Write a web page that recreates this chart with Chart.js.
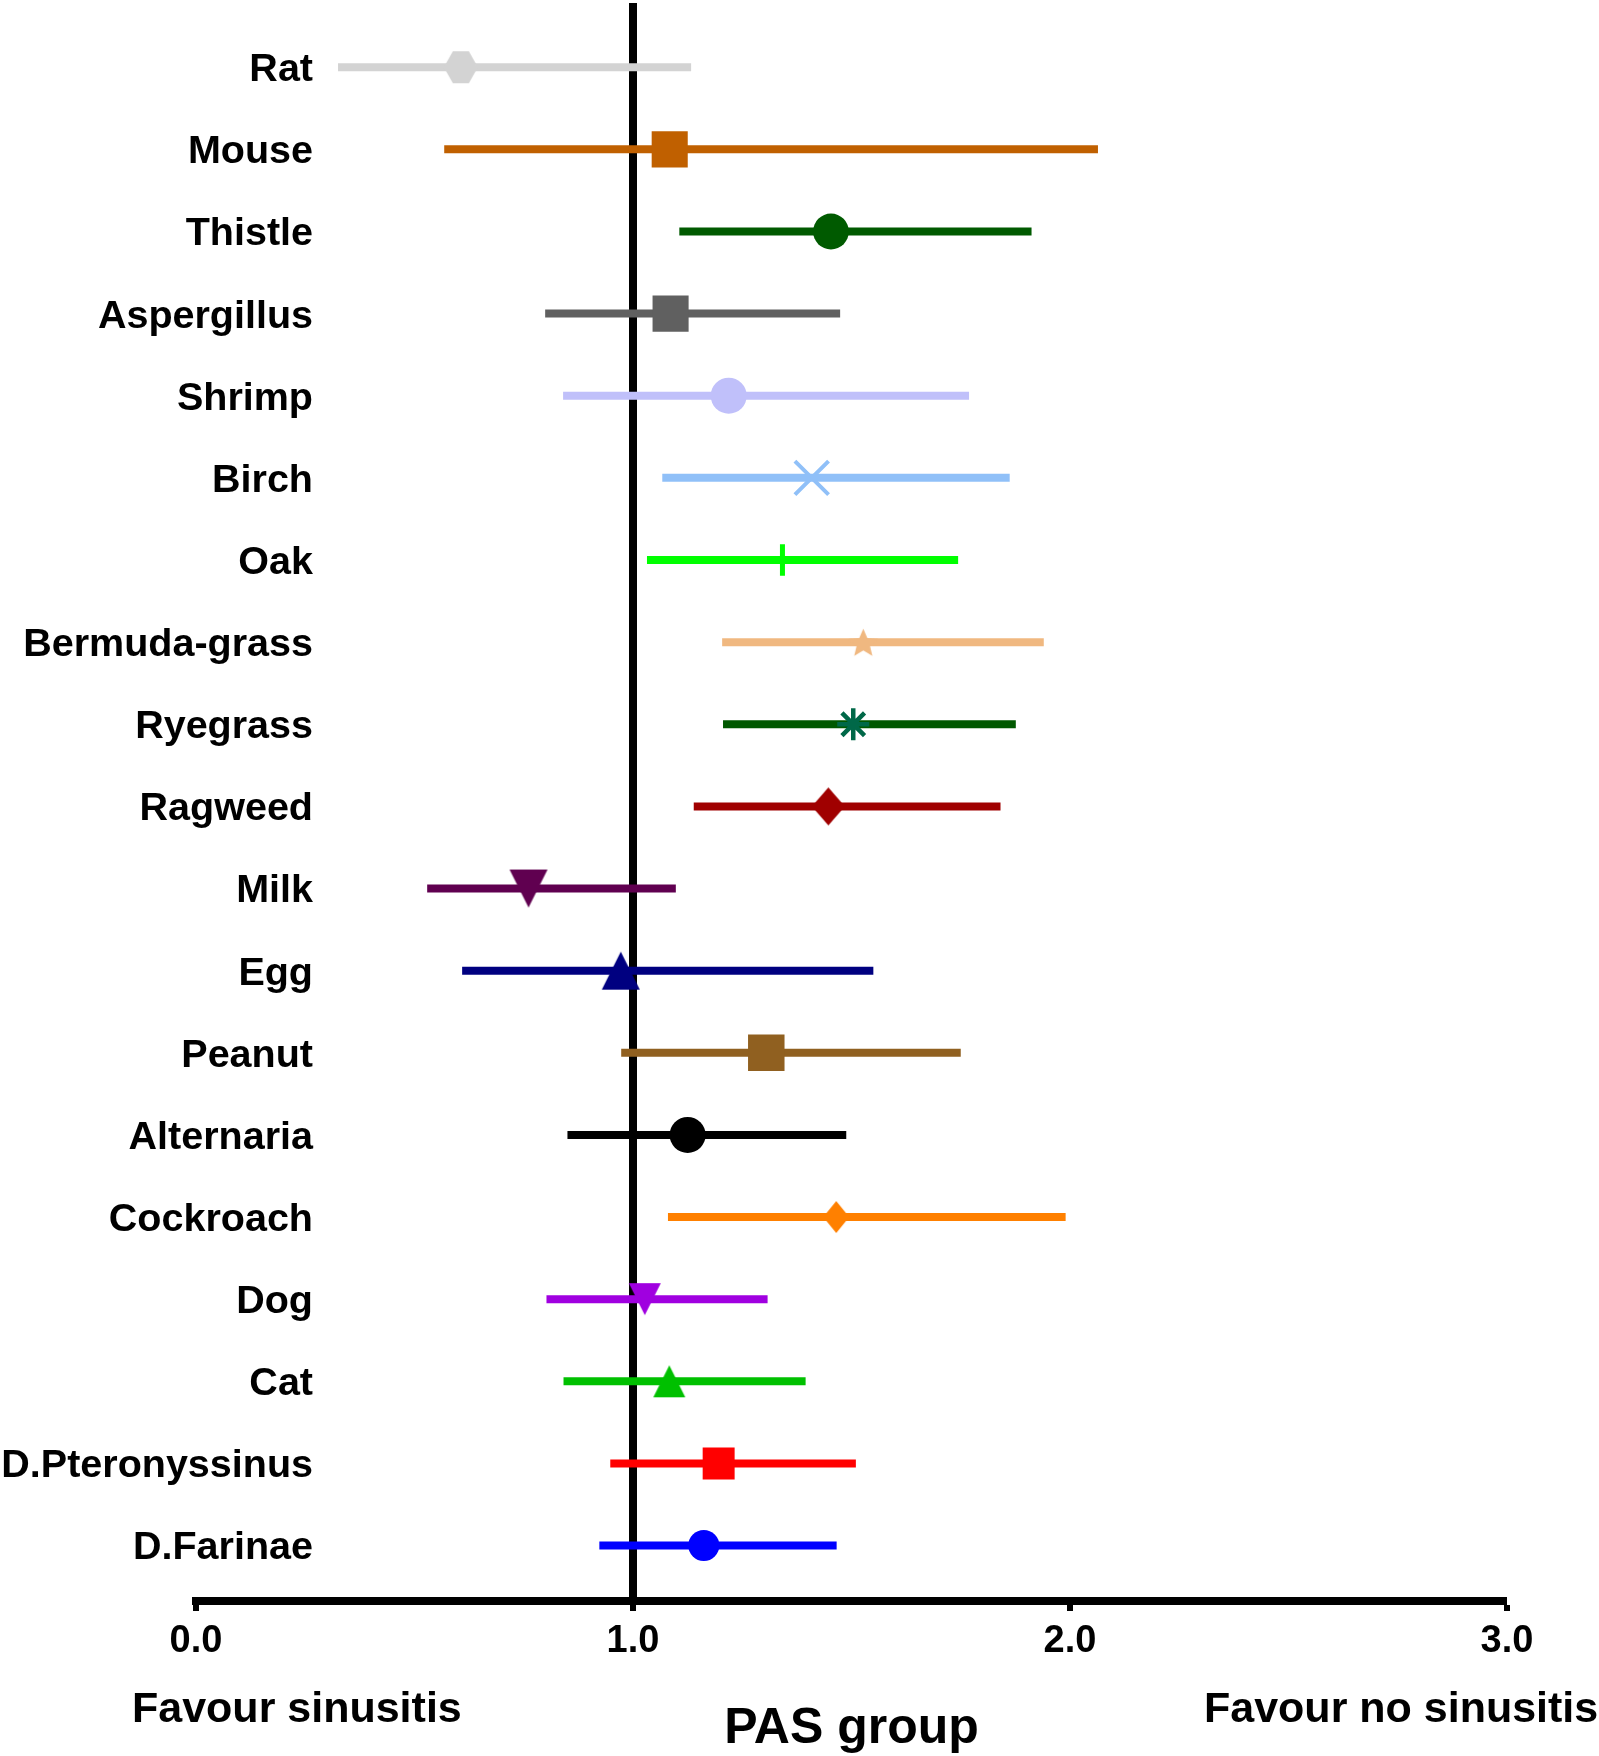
<!DOCTYPE html>
<html>
<head>
<meta charset="utf-8">
<script src="https://cdn.jsdelivr.net/npm/chart.js@4.4.1/dist/chart.umd.min.js"></script>
<style>
  html, body { margin: 0; padding: 0; background: #fff; }
  #wrap { width: 1599px; height: 1756px; }
</style>
</head>
<body>
<div id="wrap"><canvas id="forest" width="1599" height="1756"></canvas></div>
<script>
// allergens, top to bottom
const categories = ['Rat', 'Mouse', 'Thistle', 'Aspergillus', 'Shrimp', 'Birch', 'Oak', 'Bermuda-grass', 'Ryegrass',
  'Ragweed', 'Milk', 'Egg', 'Peanut', 'Alternaria', 'Cockroach', 'Dog', 'Cat', 'D.Pteronyssinus', 'D.Farinae'];
const estimates = [0.606, 1.084, 1.453, 1.086, 1.219, 1.409, 1.342, 1.527, 1.504, 1.447,
  0.761, 0.972, 1.305, 1.125, 1.465, 1.027, 1.083, 1.196, 1.162];
const lower = [0.325, 0.568, 1.106, 0.799, 0.840, 1.067, 1.032, 1.204, 1.206, 1.139,
  0.529, 0.609, 0.973, 0.850, 1.080, 0.802, 0.841, 0.948, 0.923];
const upper = [1.133, 2.064, 1.912, 1.474, 1.769, 1.862, 1.744, 1.940, 1.876, 1.841,
  1.098, 1.550, 1.750, 1.488, 1.990, 1.308, 1.395, 1.510, 1.466];
const xTicks = [0, 1, 2, 3];

const barColors = ['#d3d3d3', '#c06000', '#005a00', '#606060', '#c0c0fa', '#90c0f8', '#00ff00', '#f0b880', '#005800',
  '#a00000', '#600050', '#000080', '#906020', '#000000', '#ff8000', '#a000e0', '#00c000', '#ff0000', '#0000ff'];
const markerColors = barColors.slice();
markerColors[8] = '#006848';

const FONT = "'Liberation Sans', Arial, Helvetica, sans-serif";
Chart.defaults.font.family = FONT;
Chart.defaults.color = '#000';

const LABEL_SIZE = 39.5;
// widest category label, so the mirrored labels can be right-aligned
const meas = document.createElement('canvas').getContext('2d');
meas.font = 'bold ' + LABEL_SIZE + 'px ' + FONT;
const widest = Math.max(...categories.map(t => meas.measureText(t).width));

// little canvas markers for shapes chart.js has no style for
function marker(shape, w, h, color) {
  const c = document.createElement('canvas');
  c.width = Math.round(w) + 2;
  c.height = Math.round(h) + 2;
  const g = c.getContext('2d');
  const a = w / 2, b = h / 2;
  g.translate(c.width / 2, c.height / 2);
  g.fillStyle = color;
  g.beginPath();
  if (shape === 'hex') {
    const k = a * 0.47;
    g.moveTo(-a, 0); g.lineTo(-k, -b); g.lineTo(k, -b); g.lineTo(a, 0); g.lineTo(k, b); g.lineTo(-k, b);
  } else if (shape === 'star') {
    for (let i = 0; i < 10; i++) {
      const r = i % 2 ? a * 0.45 : a;
      const t = -Math.PI / 2 + i * Math.PI / 5;
      const px = Math.cos(t) * r, py = Math.sin(t) * r * (b / a) + b * 0.1;
      if (i === 0) g.moveTo(px, py); else g.lineTo(px, py);
    }
  } else if (shape === 'diamond') {
    g.moveTo(0, -b); g.lineTo(a, 0); g.lineTo(0, b); g.lineTo(-a, 0);
  } else if (shape === 'up') {
    g.moveTo(0, -b); g.lineTo(a, b); g.lineTo(-a, b);
  } else if (shape === 'down') {
    g.moveTo(-a, -b); g.lineTo(a, -b); g.lineTo(0, b);
  }
  g.closePath();
  g.fill();
  return c;
}

const pointStyles = [
  marker('hex', 34, 32, markerColors[0]),
  'rect', 'circle', 'rect', 'circle', 'crossRot', 'cross',
  marker('star', 31, 30, markerColors[7]),
  'star',
  marker('diamond', 33, 38, markerColors[9]),
  marker('down', 38, 38, markerColors[10]),
  marker('up', 38, 38, markerColors[11]),
  'rect', 'circle',
  marker('diamond', 26, 32, markerColors[14]),
  marker('down', 32, 32, markerColors[15]),
  marker('up', 32, 32, markerColors[16]),
  'rect', 'circle'
];
const pointSizes = [17, 25.5, 17.9, 25.5, 18, 23.8, 15.7, 15, 16, 18, 19, 19, 25.8, 18, 15, 16, 16, 22.6, 15.5];
const pointLines = [0, 0, 0, 0, 0, 4, 5, 0, 4.5, 0, 0, 0, 0, 0, 0, 0, 0, 0, 0];

const datasets = [{
  label: 'estimate',
  data: estimates.map((v, i) => ({ x: v, y: i })),
  pointStyle: pointStyles,
  pointRadius: pointSizes,
  pointBackgroundColor: markerColors,
  pointBorderColor: markerColors,
  pointBorderWidth: pointLines,
  showLine: false
}];
categories.forEach((name, i) => {
  datasets.push({
    label: name,
    data: [{ x: lower[i], y: i }, { x: upper[i], y: i }],
    showLine: true,
    borderColor: barColors[i],
    borderWidth: 8,
    borderCapStyle: 'butt',
    pointRadius: 0
  });
});

// the two side captions under the axis
const captions = {
  id: 'captions',
  afterDraw(chart) {
    const ctx = chart.ctx;
    ctx.save();
    ctx.font = 'bold 43px ' + FONT;
    ctx.fillStyle = '#000';
    ctx.textBaseline = 'middle';
    ctx.textAlign = 'left';
    ctx.fillText('Favour sinusitis', 132, 1710);
    ctx.fillText('Favour no sinusitis', 1204, 1710);
    ctx.restore();
  }
};

new Chart(document.getElementById('forest'), {
  type: 'scatter',
  data: { datasets },
  options: {
    responsive: false,
    animation: false,
    layout: { autoPadding: false, padding: { left: 0, right: 92, top: 3, bottom: 0 } },
    plugins: {
      legend: { display: false },
      tooltip: { enabled: false }
    },
    scales: {
      x: {
        type: 'linear',
        position: 'bottom',
        min: 0,
        max: 3,
        z: 1,
        afterBuildTicks: s => { s.ticks = xTicks.map(v => ({ value: v })); },
        afterFit: s => { s.height = 155; s.paddingLeft = 0; s.paddingRight = 0; },
        ticks: {
          callback: v => Number(v).toFixed(1),
          font: { size: 38, weight: 'bold' },
          color: '#000',
          padding: 8
        },
        grid: {
          drawOnChartArea: true,
          color: c => (c.tick && c.tick.value === 1 ? '#000' : 'rgba(0,0,0,0)'),
          lineWidth: c => (c.tick && c.tick.value === 1 ? 8 : 0),
          tickColor: '#000',
          tickWidth: 6,
          tickLength: 10
        },
        border: { display: true, color: '#000', width: 8 },
        title: {
          display: true,
          text: 'PAS group',
          font: { size: 50, weight: 'bold' },
          color: '#000',
          padding: { top: 0, bottom: -3 }
        }
      },
      y: {
        type: 'linear',
        position: 'left',
        reverse: true,
        min: -0.782,
        max: 18.675,
        afterBuildTicks: s => { s.ticks = categories.map((_, i) => ({ value: i })); },
        afterFit: s => { s.width = 196; s.paddingTop = 0; s.paddingBottom = 0; },
        ticks: {
          autoSkip: false,
          mirror: true,
          crossAlign: 'far',
          labelOffset: 3,
          callback: v => categories[v],
          font: { size: LABEL_SIZE, weight: 'bold' },
          color: '#000',
          padding: 117 - widest
        },
        grid: { display: false, drawTicks: false },
        border: { display: false }
      }
    }
  },
  plugins: [captions]
});
</script>
</body>
</html>
